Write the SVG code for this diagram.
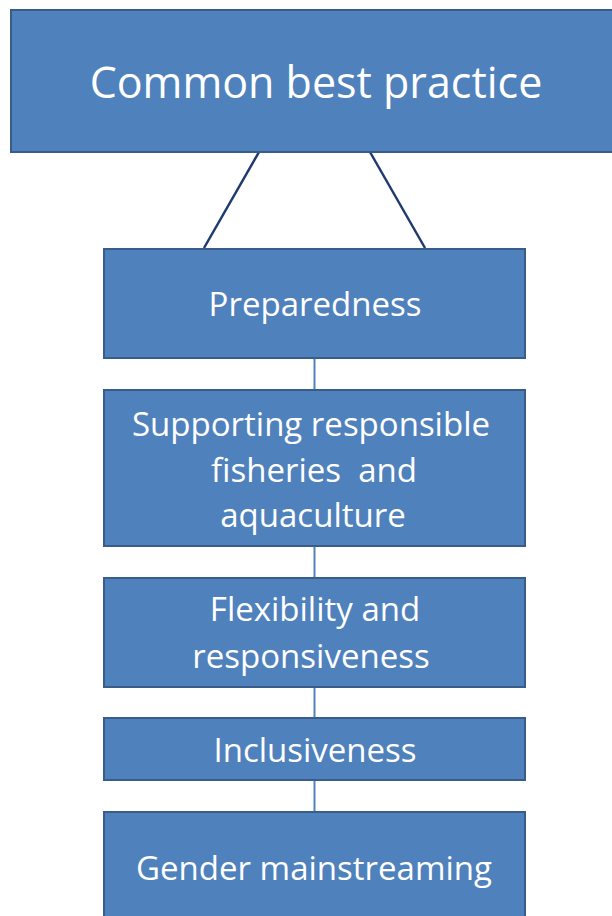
<svg xmlns="http://www.w3.org/2000/svg" width="612" height="916" viewBox="0 0 612 916">
<style>
.box{fill:#4F81BD;stroke:#385D8A;stroke-width:2}
.t{fill:#FFFFFF;font-family:"Open Sans","Noto Sans",sans-serif;font-size:33px;text-anchor:middle}
.big{font-size:43px}
.tie{stroke:#1F3A6E;stroke-width:2.5;fill:none}
.link{stroke:#4F81BD;stroke-width:2;fill:none}
</style>
<rect width="612" height="916" fill="#FFFFFF"/>
<g id="connectors">
<line class="tie" x1="259" y1="152" x2="204" y2="248"/>
<line class="tie" x1="370" y1="152" x2="425" y2="248"/>
<line class="link" x1="314.5" y1="358" x2="314.5" y2="389"/>
<line class="link" x1="314.5" y1="546" x2="314.5" y2="577"/>
<line class="link" x1="314.5" y1="687" x2="314.5" y2="717"/>
<line class="link" x1="314.5" y1="780" x2="314.5" y2="811"/>
</g>
<g id="common">
<rect class="box" x="11" y="10" width="612" height="142"/>
<text class="t big" x="316" y="98">Common best practice</text>
</g>
<g id="preparedness">
<rect class="box" x="104" y="249" width="421" height="109"/>
<text class="t" x="315" y="316">Preparedness</text>
</g>
<g id="supporting">
<rect class="box" x="104" y="390" width="421" height="156"/>
<text class="t" x="311" y="436">Supporting responsible</text>
<text class="t" x="314" y="482" xml:space="preserve">fisheries  and</text>
<text class="t" x="313" y="527">aquaculture</text>
</g>
<g id="flexibility">
<rect class="box" x="104" y="578" width="421" height="109"/>
<text class="t" x="315" y="621">Flexibility and</text>
<text class="t" x="311" y="668">responsiveness</text>
</g>
<g id="inclusiveness">
<rect class="box" x="104" y="718" width="421" height="62"/>
<text class="t" x="315" y="762">Inclusiveness</text>
</g>
<g id="gender">
<rect class="box" x="104" y="812" width="421" height="110"/>
<text class="t" x="314" y="880">Gender mainstreaming</text>
</g>
</svg>
